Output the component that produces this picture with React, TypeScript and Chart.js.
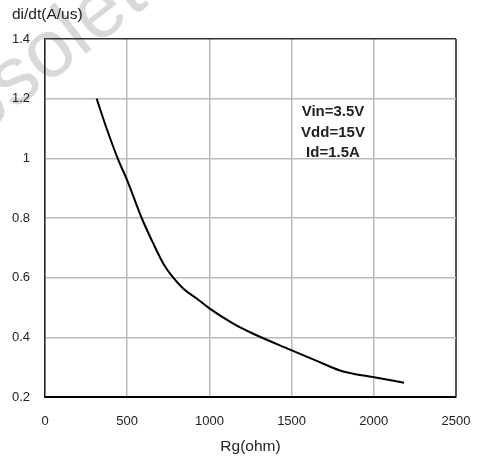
import React, { useEffect, useRef } from "react";
import { Chart, registerables } from "chart.js";

Chart.register(...registerables);

const rgOhm = [314, 375, 442, 500, 588, 659, 720, 780, 842, 923, 1000, 1145, 1267, 1490, 1653, 1794, 1875, 1993, 2184];
const diDt = [1.2, 1.1, 1.0, 0.926, 0.8, 0.714, 0.647, 0.6, 0.563, 0.53, 0.497, 0.446, 0.412, 0.359, 0.321, 0.289, 0.278, 0.267, 0.248];
const xTicks = [0, 500, 1000, 1500, 2000, 2500];
const yTicks = [0.2, 0.4, 0.6, 0.8, 1, 1.2, 1.4];
const yTitle = "di/dt(A/us)";
const xTitle = "Rg(ohm)";
const conditions = ["Vin=3.5V", "Vdd=15V", "Id=1.5A"];
const watermark = "Obsolete";

const FONT = "'Liberation Sans', Arial, sans-serif";

const textPlugin = {
  id: "texts",
  beforeDraw(chart: any) {
    const ctx = chart.ctx;
    ctx.save();
    ctx.translate(-73, 178);
    ctx.rotate((-38 * Math.PI) / 180);
    ctx.font = `82px ${FONT}`;
    ctx.fillStyle = "#d9d9d9";
    ctx.textAlign = "left";
    ctx.textBaseline = "alphabetic";
    ctx.fillText(watermark, 0, 0);
    ctx.restore();
  },
  afterDraw(chart: any) {
    const ctx = chart.ctx;
    ctx.save();
    ctx.fillStyle = "#222";
    ctx.font = `15.5px ${FONT}`;
    ctx.textAlign = "left";
    ctx.textBaseline = "middle";
    ctx.fillText(yTitle, 12, 15);
    ctx.font = `bold 15px ${FONT}`;
    ctx.textAlign = "center";
    const ys = [111.7, 133.3, 153.3];
    conditions.forEach((t, i) => ctx.fillText(t, 333, ys[i]));
    ctx.restore();
  },
};

export default function App() {
  const ref = useRef<HTMLCanvasElement>(null);
  useEffect(() => {
    if (!ref.current) return;
    const chart = new Chart(ref.current, {
      type: "line",
      data: {
        datasets: [
          {
            data: rgOhm.map((x, i) => ({ x, y: diDt[i] })),
            borderColor: "#000",
            borderWidth: 2,
            pointRadius: 0,
            fill: false,
            cubicInterpolationMode: "monotone",
          },
        ],
      },
      options: {
        animation: false,
        responsive: false,
        devicePixelRatio: 1,
        layout: { padding: { left: 0, top: 39, right: 24, bottom: 0 } },
        plugins: { legend: { display: false }, tooltip: { enabled: false }, title: { display: false } },
        scales: {
          x: {
            type: "linear",
            min: 0,
            max: 2500,
            afterBuildTicks: (s: any) => {
              s.ticks = xTicks.map((v) => ({ value: v }));
            },
            afterFit: (s: any) => {
              s.height = 64;
              s.paddingLeft = 0;
              s.paddingRight = 0;
            },
            ticks: { color: "#222", font: { family: FONT, size: 13 }, padding: 17, maxRotation: 0, callback: (v: any) => String(v) },
            grid: {
              drawTicks: false,
              color: (c: any) => (c.tick && c.tick.value === 2500 ? "#555" : "#bbb"),
              lineWidth: (c: any) => (c.tick && c.tick.value === 2500 ? 2 : 1.5),
            },
            border: { color: "#000", width: 2 },
            title: { display: true, text: xTitle, color: "#222", font: { family: FONT, size: 15.5 }, padding: { top: 0, bottom: 5 } },
          },
          y: {
            type: "linear",
            min: 0.2,
            max: 1.4,
            afterBuildTicks: (s: any) => {
              s.ticks = yTicks.map((v) => ({ value: v }));
            },
            afterFit: (s: any) => {
              s.width = 45;
              s.paddingTop = 0;
              s.paddingBottom = 0;
            },
            ticks: { color: "#222", font: { family: FONT, size: 13 }, padding: 15, callback: (v: any) => String(Number(Number(v).toFixed(1))) },
            grid: {
              drawTicks: false,
              color: (c: any) => (c.tick && Math.abs(c.tick.value - 1.4) < 1e-6 ? "#333" : "#bbb"),
              lineWidth: 1.5,
            },
            border: { color: "#222", width: 1.5 },
          },
        },
      },
      plugins: [textPlugin],
    } as any);
    return () => chart.destroy();
  }, []);
  return (
    <div style={{ position: "fixed", left: 0, top: 0, width: 480, height: 461, background: "#fff" }}>
      <canvas ref={ref} width={480} height={461} style={{ width: 480, height: 461 }} />
    </div>
  );
}
